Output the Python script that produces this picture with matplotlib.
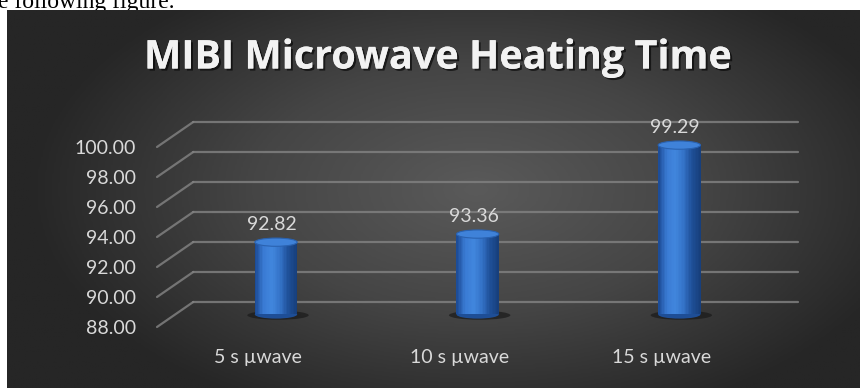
import numpy as np
import matplotlib
matplotlib.use("Agg")
import matplotlib.pyplot as plt
import matplotlib.patheffects as pe
from matplotlib.patches import Ellipse
from matplotlib.colors import LinearSegmentedColormap

# data
categories = ["5 s µwave", "10 s µwave", "15 s µwave"]
values = [92.82, 93.36, 99.29]
value_labels = ["92.82", "93.36", "99.29"]
y_ticks = [88, 90, 92, 94, 96, 98, 100]
title = "MIBI Microwave Heating Time"

W, H, DPI = 860, 388, 100
FONT = "Lato"

# 3D depth offset of the back wall, in data units
DX, DY = 0.18, 1.67
BAR_W = 0.21

fig = plt.figure(figsize=(W / DPI, H / DPI), dpi=DPI)
fig.patch.set_facecolor("white")

# cut-off line of the surrounding document
fig.text(-0.002, 1 - 8 / H, "e following figure.", family="Liberation Serif",
         fontsize=17, color="black", va="baseline", ha="left", zorder=0)

# panel background with radial gradient
bg = fig.add_axes([7 / W, 0, 1 - 7 / W, 1 - 10 / H], zorder=1)
gx, gy = np.meshgrid(np.linspace(-1, 1, 400), np.linspace(-1, 1, 200))
r = np.clip(np.sqrt(((gx - 0.1) / 1.05) ** 2 + ((gy + 0.05) / 1.3) ** 2), 0, 1)
bg_cmap = LinearSegmentedColormap.from_list("bg", ["#5a5a5a", "#454545", "#262626"])
bg.imshow(r, cmap=bg_cmap, aspect="auto", extent=[0, 1, 0, 1], vmin=0, vmax=1)
bg.set_axis_off()

# front plane of the chart
ax = fig.add_axes([157 / W, 61 / H, 605 / W, 180 / H], zorder=2)
ax.set_xlim(-0.5, 2.5)
ax.set_ylim(88, 100)
ax.patch.set_alpha(0)
for s in ax.spines.values():
    s.set_visible(False)

grid_kw = dict(color="#808080", lw=1.6, alpha=0.85, clip_on=False, solid_capstyle="round")
for v in y_ticks:
    # floor-to-wall diagonal and back wall line
    ax.plot([-0.5, -0.5 + DX], [v, v + DY], **grid_kw)
    ax.plot([-0.5 + DX, 2.5 + DX], [v + DY, v + DY], **grid_kw)

ax.set_yticks(y_ticks)
ax.set_yticklabels([f"{v:.2f}" for v in y_ticks])
ax.set_xticks(range(len(categories)))
ax.set_xticklabels(categories)
ax.tick_params(axis="y", length=0, pad=15, labelsize=14, labelcolor="#d9d9d9")
ax.tick_params(axis="x", length=0, pad=16, labelsize=14, labelcolor="#d9d9d9")
for lab in ax.get_xticklabels() + ax.get_yticklabels():
    lab.set_family(FONT)

# cylinders
body_cmap = LinearSegmentedColormap.from_list(
    "body", ["#1d4d98", "#3a7bd4", "#4186dd", "#3473c8", "#1f5099", "#173f7c"])
n_slices = 30
base = 88 + DY / 2
ell_h = 0.55
for i, v in enumerate(values):
    cx = i + DX / 2
    top = v + DY / 2
    # shadow on the floor
    ax.add_patch(Ellipse((cx + 0.01, base - 0.05), BAR_W * 1.45, ell_h * 1.1,
                         facecolor="#1a1a1a", edgecolor="none", alpha=0.7,
                         zorder=3, clip_on=False))
    # bottom cap
    ax.add_patch(Ellipse((cx, base), BAR_W, ell_h, facecolor="#1e4e96",
                         edgecolor="none", zorder=4, clip_on=False))
    xs = np.linspace(cx - BAR_W / 2, cx + BAR_W / 2, n_slices + 1)
    for k in range(n_slices):
        ax.bar((xs[k] + xs[k + 1]) / 2, top - base, width=(xs[k + 1] - xs[k]) * 1.05,
               bottom=base, color=body_cmap(k / (n_slices - 1)), lw=0,
               zorder=5, clip_on=False)
    # top cap
    ax.add_patch(Ellipse((cx, top), BAR_W, ell_h, facecolor="#3f82d9",
                         edgecolor="#2a62b0", lw=0.8, zorder=6, clip_on=False))
    ax.annotate(value_labels[i], (cx, top), xytext=(-3, 13), textcoords="offset points",
                ha="center", va="center", fontsize=14, color="#d9d9d9",
                family=FONT, zorder=7, annotation_clip=False)

# title with soft shadow
fig.text(438 / W, 1 - 58 / H, title, ha="center", va="center", fontsize=28.5,
         fontweight="bold", family="Open Sans", color="#f2f2f2", zorder=5,
         path_effects=[pe.withSimplePatchShadow(offset=(1.5, -1.5), shadow_rgbFace="black",
                                                alpha=0.6), pe.Normal()])

fig.savefig("out.png", dpi=DPI)
